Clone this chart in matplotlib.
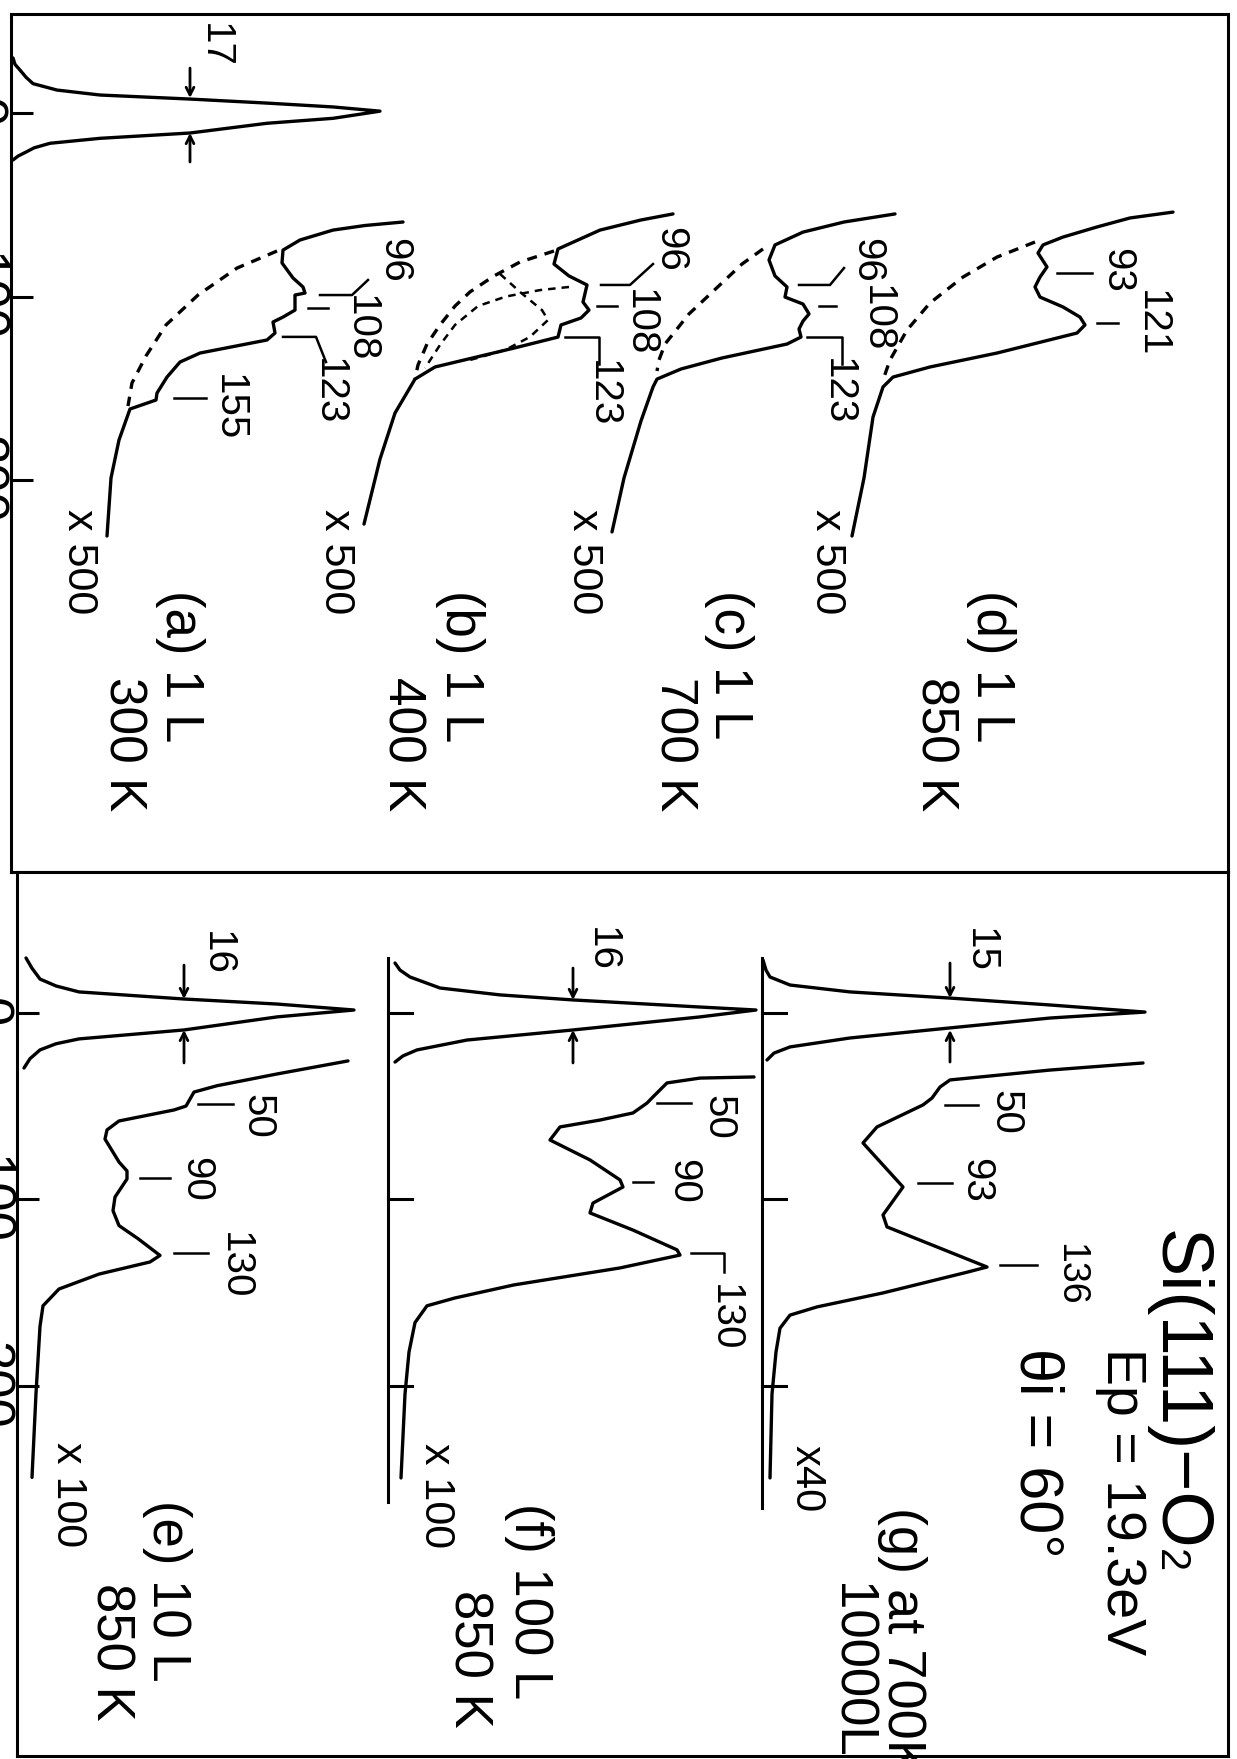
import matplotlib
matplotlib.use('Agg')
import matplotlib.pyplot as plt

plt.rcParams['font.family'] = ['Liberation Sans', 'DejaVu Sans']

# ---- data: energy loss (meV) and intensity (arb. units above each baseline) ----
tick_meV = [0, 100, 200]

# top panel, 1 L exposures
el_a_E = [-30, -26.5, -23.4, -19.5, -16, -12.5, -9.8, -7.6, -5.4, -3.3, -1.0, 2.9, 5.6, 10.9, 13.8,
          16.5, 19, 21, 23.5, 25.6]
el_a_I = [1, 3, 8, 14, 21, 45, 88, 178, 255, 321, 368, 321, 255, 178, 88,
          38, 22, 15, 6, 1]

a_E = [59.4, 61.3, 63.8, 69.2, 74.7, 81.7, 89.9, 94.8, 98.1, 99.2, 107.4, 111.2, 113.9, 119.9, 123.7,
       130.8, 135.7, 143.9, 152.6, 156.4, 161.3, 178.2, 198.9, 230.5]
a_I = [391, 353, 321, 288, 271, 270, 281, 291, 293, 283, 283, 271, 261, 263, 255,
       188, 168, 155, 145, 144, 118, 107, 99, 95]
a_bg_E = [75.2, 84.5, 99.2, 115.5, 132.4, 147.1, 159.7]
a_bg_I = [265, 225, 186, 154, 134, 120, 116]

b_E = [55, 58.3, 63.8, 74.1, 82.3, 88.8, 93.7, 103, 107.4, 111.7, 115.5, 122.1, 128.1, 138.4, 145, 163.5, 188.6, 224]
b_I = [404, 372, 331, 289, 285, 300, 318, 314, 320, 312, 292, 289, 245, 166, 146, 126, 111, 95]
b_bg_E = [75.2, 81.2, 88.8, 97.5, 105.2, 115.5, 125.9, 137.3, 145]
b_bg_I = [285, 251, 225, 201, 186, 171, 158, 149, 146]
b_c1_E = [94.8, 96.5, 100, 105.2, 115.5, 126.4, 139]
b_c1_I = [300, 271, 237, 209, 186, 171, 156]
b_c2_E = [87.7, 97.5, 107.4, 112.8, 122, 129.2, 134.6]
b_c2_I = [231, 251, 273, 279, 261, 236, 201]

c_E = [55, 59.4, 64.9, 71.9, 80.1, 88.8, 94.8, 100.3, 104.1, 109.5, 113.4, 117.7, 122.1, 125.9,
       133.5, 139.5, 145, 149.3, 167.8, 198.9, 228.3]
c_I = [378, 327, 286, 258, 252, 258, 270, 268, 286, 292, 286, 282, 284, 270,
       205, 164, 140, 136, 124, 107, 95]
c_bg_E = [74.1, 82.3, 92.6, 100.8, 109.5, 117.7, 125.9, 134.6, 140.6]
c_bg_I = [246, 225, 205, 189, 172, 160, 148, 142, 140]

d_E = [54, 57.2, 62.1, 67.6, 71.9, 76.3, 83.9, 89.4, 94.8, 100.3, 105.7, 111.2, 115.5, 119.9,
       130.8, 138.4, 143.9, 149.3, 165.7, 198.9, 230.5]
d_I = [416, 373, 340, 306, 286, 281, 290, 283, 278, 283, 306, 323, 328, 320,
       240, 173, 136, 126, 116, 107, 95]
d_bg_E = [70.3, 78.5, 89.4, 103.5, 118.3, 134.6, 145.5]
d_bg_I = [278, 240, 206, 173, 150, 133, 126]

# bottom panel, 850 K / 700 K
el_e_E = [-29.5, -24, -18.2, -14.5, -11.3, -7.5, -4.8, -1.6, 2.1, 9.1, 13.9, 16.5, 19.8, 24.5, 29.5]
el_e_I = [8, 14, 22, 38, 61, 166, 259, 336, 259, 166, 61, 38, 22, 12, 6]
e_E = [25.7, 32.7, 39, 42.4, 49.9, 52, 57.9, 62.7, 67.6, 79.9, 84.7, 89, 98.7, 106, 114, 121,
       130, 133.5, 140, 148, 157, 168, 204, 249]
e_I = [330, 259, 199, 176, 168, 156, 101, 89, 87, 101, 109, 109, 97, 95, 101, 120,
       142, 132, 81, 41, 25, 22, 18, 14]

el_f_E = [-26.8, -23, -19.3, -13.4, -9.7, -7.0, -3.2, -1.6, 2.1, 9.1, 14.5, 19.8, 23, 26.3]
el_f_I = [7, 12, 22, 52, 112, 185, 312, 368, 312, 185, 79, 29, 15, 7]
f_E = [34.3, 34.9, 37.5, 45, 48.3, 53.6, 57.4, 61.1, 68.1, 78.8, 89.5, 93.3, 101.9, 107.2, 116.4,
       127, 129.8, 136.7, 145.8, 152.8, 157, 166, 181.8, 204.3, 249.3]
f_I = [366, 312, 279, 265, 259, 245, 212, 172, 162, 202, 232, 235, 205, 202, 245,
       289, 292, 232, 126, 67, 39, 27, 21, 17, 13]

el_g_E = [-28.4, -23, -19.3, -15, -11.3, -8, -4.3, -0.5, 2.7, 8, 13.4, 18.2, 21.5, 25.2]
el_g_I = [1, 4, 8, 28, 88, 188, 288, 383, 288, 188, 88, 28, 12, 5]
g_E = [26.8, 30.6, 35.9, 39.7, 45.6, 49.3, 61.1, 69.7, 93.3, 108.3, 114.7, 136.2, 139, 150.1,
       157.6, 162, 169, 181.8, 204.3, 249.3]
g_I = [381, 288, 188, 178, 170, 161, 115, 101, 141, 121, 125, 225, 205, 121,
       55, 28, 18, 14, 10, 8]

# ---- layout (pixels of the 1237x1759 page) ----
W, H = 1237, 1759
base_top = {'a': 12, 'b': 269, 'c': 517, 'd': 757}
base_bot = {'e': 18, 'f': 388, 'g': 762}
LW = 2.4
dash = (0, (3, 2.4))
PK = 29   # peak label size

fig = plt.figure(figsize=(W / 100, H / 100), dpi=100)


def px_axes(x0, y0, x1, y1):
    return fig.add_axes([x0 / W, 1 - y1 / H, (x1 - x0) / W, (y1 - y0) / H])


top = px_axes(11, 14, 1228, 872)
top.set_xlim(11, 1228)
top.set_ylim(413.6, -53.95)
bot = px_axes(17, 872, 1228, 1756)
bot.set_xlim(17, 1228)
bot.set_ylim(398.4, -75.6)

for ax in (top, bot):
    ax.set_xticks([])
    ax.set_yticks(tick_meV)
    ax.set_yticklabels([str(t) for t in tick_meV], rotation=-90, va='center')
    ax.tick_params(axis='y', direction='in', length=16, width=2.2, labelsize=38, pad=3)
    for s in ax.spines.values():
        s.set_linewidth(2.2)


def trace(ax, base, E, I, ls='-', lw=LW):
    ax.plot([base + v for v in I], E, color='k', lw=lw, ls=ls,
            solid_joinstyle='round', solid_capstyle='round')


def leader(ax, pts):
    ax.plot([p[0] for p in pts], [p[1] for p in pts], color='k', lw=1.8)


def vtext(ax, x, E, s, size, va='center'):
    return ax.text(x, E, s, rotation=-90, ha='center', va=va, fontsize=size)


def fwhm(ax, x, down, up):
    for e0, e1 in (down, up):
        ax.annotate('', xy=(x, e1), xytext=(x, e0),
                    arrowprops=dict(arrowstyle='->,head_length=0.55,head_width=0.28',
                                    lw=2, color='k', shrinkA=0, shrinkB=0))


# ---- top panel ----
trace(top, base_top['a'], el_a_E, el_a_I)
fwhm(top, 190, (-24.5, -8.2), (26.7, 10.9))
vtext(top, 215, -36.8, '17', PK)

trace(top, base_top['a'], a_E, a_I)
trace(top, base_top['a'], a_bg_E, a_bg_I, ls=dash)
trace(top, base_top['b'], b_E, b_I)
trace(top, base_top['b'], b_bg_E, b_bg_I, ls=dash)
trace(top, base_top['b'], b_c1_E, b_c1_I, ls=dash, lw=1.8)
trace(top, base_top['b'], b_c2_E, b_c2_I, ls=dash, lw=1.8)
trace(top, base_top['c'], c_E, c_I)
trace(top, base_top['c'], c_bg_E, c_bg_I, ls=dash)
trace(top, base_top['d'], d_E, d_I)
trace(top, base_top['d'], d_bg_E, d_bg_I, ls=dash)

top_marks = [
    ([(320, 99.2), (352, 99.2), (368, 91)], '96', 394, 80.1),
    ([(308, 106.3), (328, 106.3)], '108', 361, 117.7),
    ([(283, 122), (316, 122), (326, 135.7)], '123', 329, 152),
    ([(174, 155.3), (206, 155.3)], '155', 229, 160.5),
    ([(601, 93.7), (630, 93.7), (653, 82.3)], '96', 670, 74.1),
    ([(597, 105.2), (617, 105.2)], '108', 640, 114.4),
    ([(565, 122.1), (599, 122.1), (599, 136.8)], '123', 603, 153.1),
    ([(799, 93.7), (830, 93.7), (844, 84.5)], '96', 867, 80.5),
    ([(819, 105.2), (836, 105.2)], '108', 877, 112),
    ([(807, 122.1), (842, 122.1), (842, 136.8)], '123', 838, 152),
    ([(1057, 87.2), (1092, 87.2)], '93', 1117, 85.6),
    ([(1097, 114.4), (1118, 114.4)], '121', 1152, 115),
]
for pts, s, tx, te in top_marks:
    leader(top, pts)
    vtext(top, tx, te, s, PK)

for x in [79, 336, 584, 827]:
    vtext(top, x, 215.8, 'x 500', 31, va='top')
for x, s in zip([180, 460, 729, 991], ['(a) 1 L', '(b) 1 L', '(c) 1 L', '(d) 1 L']):
    vtext(top, x, 260, s, 38, va='top')
for x, s in zip([123, 402, 674, 935], ['300 K', '400 K', '700 K', '850 K']):
    vtext(top, x, 307.4, s, 37, va='top')

# ---- bottom panel ----
for k, ax_end in (('f', 262), ('g', 265.4)):
    b = base_bot[k]
    bot.plot([b, b], [-29.5, ax_end], color='k', lw=2.2)
    for t in tick_meV:
        bot.plot([b, b + 24], [t, t], color='k', lw=2.2)

trace(bot, base_bot['e'], el_e_E, el_e_I)
trace(bot, base_bot['e'], e_E, e_I)
trace(bot, base_bot['f'], el_f_E, el_f_I)
trace(bot, base_bot['f'], f_E, f_I)
trace(bot, base_bot['g'], el_g_E, el_g_I)
trace(bot, base_bot['g'], g_E, g_I)

fwhm(bot, 184, (-25.7, -7.5), (26.8, 9.1))
fwhm(bot, 573, (-24.1, -7.0), (26.8, 9.1))
fwhm(bot, 950, (-26.8, -8.0), (26.3, 9.1))
vtext(bot, 217, -32.2, '16', PK)
vtext(bot, 602, -34.3, '16', PK)
vtext(bot, 980, -33.8, '15', PK)

bot_marks = [
    ([(198, 48.8), (233, 48.8)], '50', 257, 55.2, PK),
    ([(140, 88.5), (170, 88.5)], '90', 196, 89, PK),
    ([(174, 128.7), (208, 128.7)], '130', 235, 135.4, PK),
    ([(657, 48.3), (691, 48.3)], '50', 718, 55.8, PK),
    ([(633, 90.6), (653, 90.6)], '90', 683, 90.3, PK),
    ([(691, 128.7), (724, 128.7), (724, 138.9)], '130', 725, 163.5, PK),
    ([(945, 49.3), (978, 49.3)], '50', 1005, 53.4, PK),
    ([(918, 91.2), (952, 91.2)], '93', 976, 90, PK),
    ([(1000, 135.1), (1037, 135.1)], '136', 1070, 140, 27),
]
for pts, s, tx, te, fs in bot_marks:
    leader(bot, pts)
    vtext(bot, tx, te, s, fs)

vtext(bot, 68, 230, 'x 100', 31, va='top')
vtext(bot, 436, 230.6, 'x 100', 31, va='top')
vtext(bot, 807, 231.6, 'x40', 30, va='top')
vtext(bot, 167, 261.1, '(e) 10 L', 38, va='top')
vtext(bot, 110, 305.6, '850 K', 38, va='top')
vtext(bot, 529, 262.7, '(f) 100 L', 38, va='top')
vtext(bot, 468, 309.4, '850 K', 38, va='top')
vtext(bot, 902, 264.9, '(g) at 700K', 39, va='top')
vtext(bot, 850, 305.6, '10000L', 38, va='top')

TS, SS = 52, 30
title = vtext(bot, 1177, 116.4, 'Si(111)\u2212O', TS, va='top')
vtext(bot, 1121, 179.6, 'Ep = 19.3eV', 40, va='top')
vtext(bot, 1036, 179.6, '\u03b8i = 60\u00b0', 44, va='top')

# small "2" of O2 sits on the title baseline, right after the "O"
fig.canvas.draw()
bb = title.get_window_extent(fig.canvas.get_renderer())
x_base = bb.x0 + 0.212 * TS * 100 / 72
x2, e2 = bot.transData.inverted().transform((x_base - 0.212 * SS * 100 / 72, bb.y0 + 2))
bot.text(x2, e2, '2', rotation=-90, ha='left', va='top', fontsize=SS)

fig.savefig('out.png', dpi=100)
